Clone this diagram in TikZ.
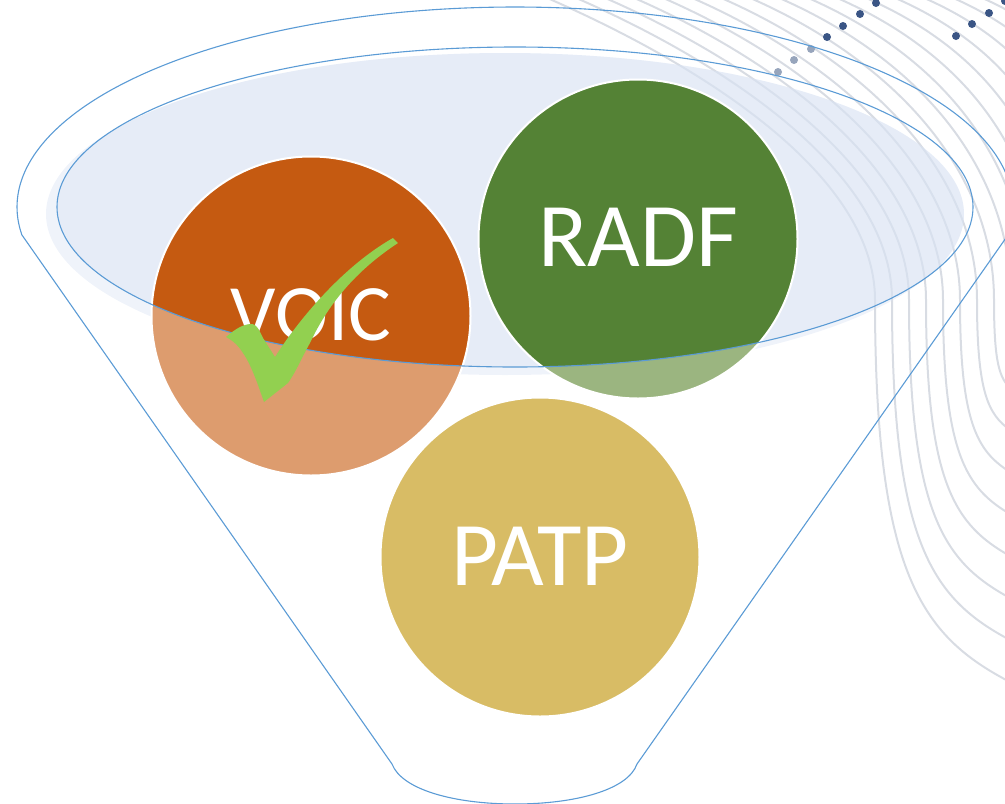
\documentclass[tikz,border=0pt]{standalone}
\usepackage{fontspec}
\setmainfont{Carlito}
\usetikzlibrary{calc}
\definecolor{rimblue}{HTML}{5B9BD5}
\definecolor{pale}{HTML}{DAE3F3}
\definecolor{waveline}{HTML}{D8DCE3}
\definecolor{dotblue}{HTML}{3A5585}
\definecolor{dotfade}{HTML}{97A5BC}
\definecolor{voicdark}{HTML}{C55A11}
\definecolor{voiclight}{HTML}{DD9C6E}
\definecolor{radfdark}{HTML}{548235}
\definecolor{radflight}{HTML}{9BB580}
\definecolor{patpcol}{HTML}{D8BC65}
\definecolor{tick}{HTML}{92D050}
\tikzset{
  ball/.style={circle,draw=white,line width=2pt,minimum size=319pt,inner sep=0pt,text=white,
    font=\fontsize{91}{91}\selectfont},
  rim/.style={draw=rimblue,line width=1.1pt},
  wave/.style={draw=waveline,line width=2pt},
  dotdark/.style={fill=dotblue},
  dotpale/.style={fill=dotfade},
}
\begin{document}
\begin{tikzpicture}[x=1pt,y=-1pt]
\useasboundingbox (0,0) rectangle (1005,804);
\clip (0,0) rectangle (1005,804);
% background wave lines
\foreach \i in {0,...,17}{
  \pgfmathsetmacro{\sx}{545+29*\i}
  \pgfmathsetmacro{\mx}{875+17*\i}
  \pgfmathsetmacro{\ey}{max(682-42*\i,330)}
  \pgfmathsetmacro{\ax}{\mx}
  \pgfmathsetmacro{\ay}{300+.72*(\ey-300)}
  \pgfmathsetmacro{\cx}{\mx+.35*max(1010-\mx,0)}
  \pgfmathsetmacro{\cy}{\ey-.12*(\ey-300)}
  \pgfmathsetmacro{\ex}{max(1010,\mx+5)}
  \path[wave] (\sx,-3) .. controls ({\sx+145},60) and (\mx,170) .. (\mx,300)
     .. controls (\ax,\ay) and (\cx,\cy) .. (\ex,\ey);
}
% dots
\foreach \x/\y in {778/72,794/60,811/49}{\fill[dotpale] (\x,\y) circle (4);}
\foreach \x/\y in {827/37,843/26,860/14,876/3,956/36,972/24,989/13,1005/1}{\fill[dotdark] (\x,\y) circle (4);}
% pale disc, washed outside the inner rim
\fill[pale,opacity=.42] (505,214) ellipse [x radius=459,y radius=161];
% circle bodies, washed
\fill[voiclight] (311,316) circle (159);
\fill[radflight] (638,239) circle (159);
\fill[patpcol] (540,557) circle (159);
% full strength inside the inner rim
\begin{scope}
  \clip (515,207) ellipse [x radius=458,y radius=160];
  \fill[pale,opacity=.42] (505,214) ellipse [x radius=459,y radius=161];
  \fill[voicdark] (311,316) circle (159);
  \fill[radfdark] (638,239) circle (159);
\end{scope}
% labelled circles
\node[ball,font=\fontsize{80}{80}\selectfont] (voic) at (311,316) {\raisebox{2pt}{VOIC}};
\node[ball] (radf) at (638,239) {\raisebox{3pt}{RADF}};
\node[ball] (patp) at (540,557) {\raisebox{2pt}{PATP}};
% funnel outline
\path[rim] (515,207) ellipse [x radius=458,y radius=160];
\path[rim] plot[domain=188:-8,samples=120,smooth] ({515+498*cos(\x)},{207-200*sin(\x)})
  -- (637,764) .. controls (628,790) and (575,804) .. (515,804)
  .. controls (455,804) and (402,790) .. (392,764) -- cycle;
% check mark
\fill[tick] (393,238) -- (398,243)
  .. controls (360,268) and (330,300) .. (310,343)
  .. controls (302,357) and (297,370) .. (288,383)
  -- (264,402)
  .. controls (259,388) and (252,366) .. (243,353)
  .. controls (238,345) and (232,340) .. (226,337)
  .. controls (232,332) and (240,325) .. (250,324)
  .. controls (257,323) and (260,332) .. (263,338)
  -- (275,357)
  .. controls (295,325) and (340,268) .. (393,238) -- cycle;
\end{tikzpicture}
\end{document}
